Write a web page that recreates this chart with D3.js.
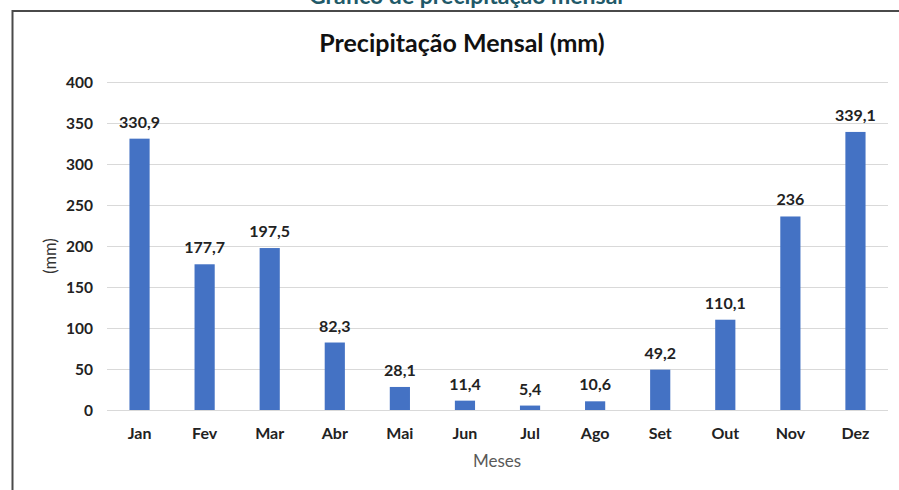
<!DOCTYPE html>
<html><head><meta charset="utf-8">
<script src="https://cdn.jsdelivr.net/npm/d3@7"></script>
<style>
html,body{margin:0;padding:0;background:#fff;}
svg{display:block;}
</style></head>
<body>
<svg id="c" width="899" height="490"></svg>
<script>
const months = ["Jan","Fev","Mar","Abr","Mai","Jun","Jul","Ago","Set","Out","Nov","Dez"];
const precip = [330.9,177.7,197.5,82.3,28.1,11.4,5.4,10.6,49.2,110.1,236,339.1];
const yTicks = [0,50,100,150,200,250,300,350,400];
const chartTitle = "Precipitação Mensal (mm)";
const pageTitle = "Gráfico de precipitação mensal";
const xTitle = "Meses";
const yTitle = "(mm)";

const svg = d3.select("#c");
const font = "Lato, 'Open Sans', sans-serif";
const m = {left:107, right:888, top:82, bottom:410};

// page heading (cut off at top, as in the reference)
svg.append("text").attr("x",466).attr("y",4).attr("text-anchor","middle")
  .attr("font-family",font).attr("font-weight","bold").attr("font-size",23)
  .attr("fill","#215968").text(pageTitle);

// frame
svg.append("path").attr("d","M12.5,490 L12.5,11 L899,11")
  .attr("fill","none").attr("stroke","#4a4a4a").attr("stroke-width",2);

const x = d3.scaleBand().domain(months).range([m.left,m.right]).paddingInner(0.69).paddingOuter(0.345);
const y = d3.scaleLinear().domain([0,400]).range([m.bottom,m.top]);

// gridlines
svg.append("g").selectAll("line").data(yTicks).join("line")
  .attr("x1",m.left).attr("x2",m.right)
  .attr("y1",d=>y(d)+0.5).attr("y2",d=>y(d)+0.5)
  .attr("stroke","#d9d9d9").attr("stroke-width",1);

// y axis labels
const yAxis = d3.axisLeft(y).tickValues(yTicks).tickSize(0).tickPadding(0).tickFormat(d3.format("d"));
const gy = svg.append("g").attr("transform",`translate(93,0)`).call(yAxis);
gy.select(".domain").remove();
gy.selectAll("text").attr("font-family",font).attr("font-weight","bold").attr("font-size",15.5).attr("fill","#222").attr("dy","0.35em");

// bars
svg.append("g").selectAll("rect").data(precip).join("rect")
  .attr("x",(d,i)=>x(months[i])).attr("width",x.bandwidth())
  .attr("y",d=>y(d)).attr("height",d=>y(0)-y(d))
  .attr("fill","#4472c4");

// data labels
svg.append("g").selectAll("text").data(precip).join("text")
  .attr("x",(d,i)=>x(months[i])+x.bandwidth()/2)
  .attr("y",d=>y(d)-11)
  .attr("text-anchor","middle")
  .attr("font-family",font).attr("font-weight","bold").attr("font-size",16).attr("fill","#222")
  .text(d=>String(d).replace(".",","));

// x axis labels
const xAxis = d3.axisBottom(x).tickSize(0).tickPadding(0);
const gx = svg.append("g").attr("transform",`translate(0,${m.bottom})`).call(xAxis);
gx.select(".domain").remove();
gx.selectAll("text").attr("font-family",font).attr("font-weight","bold").attr("font-size",16).attr("fill","#222").attr("dy",null).attr("y",29);

// titles
svg.append("text").attr("x",462).attr("y",52).attr("text-anchor","middle")
  .attr("font-family",font).attr("font-weight","bold").attr("font-size",25).attr("fill","#111")
  .text(chartTitle);
svg.append("text").attr("x",497).attr("y",467).attr("text-anchor","middle")
  .attr("font-family",font).attr("font-size",17).attr("fill","#595959").text(xTitle);
svg.append("text").attr("transform","translate(56,256) rotate(-90)").attr("text-anchor","middle")
  .attr("font-family",font).attr("font-size",16.5).attr("fill","#333").text(yTitle);
</script>
</body></html>
